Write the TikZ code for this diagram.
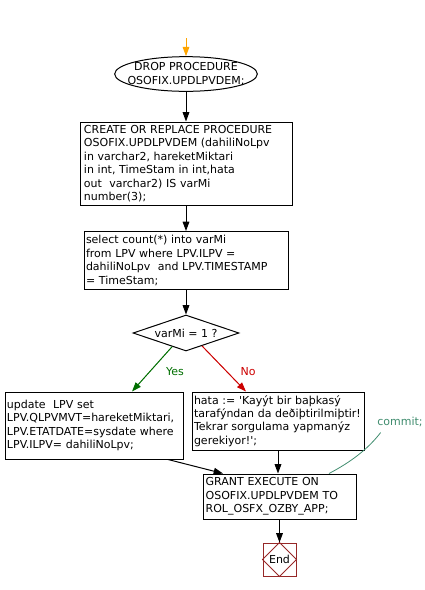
\documentclass[tikz,border=0pt]{standalone}
\usepackage{fontspec}
\setmainfont{DejaVu Sans}
\usetikzlibrary{shapes.geometric,arrows.meta,calc}
\definecolor{startorange}{RGB}{255,165,0}
\definecolor{yesgreen}{RGB}{0,110,0}
\definecolor{nored}{RGB}{204,0,0}
\definecolor{endred}{RGB}{150,40,40}
\definecolor{committeal}{RGB}{64,140,110}
\newcommand\sq{\textquotesingle}
\newcommand\tline[1]{\mbox{#1}}
\begin{document}
\begin{tikzpicture}[x=0.75pt,y=-0.75pt,
  every node/.style={font=\fontsize{8.25pt}{10.1pt}\selectfont},
  flow/.style={draw=black,line width=0.75pt,-{Triangle[length=7pt,width=5pt]}},
  pbox/.style={draw=black,line width=0.75pt,rectangle,align=left,inner ysep=0pt},
  termell/.style={draw=black,line width=0.75pt,ellipse,inner sep=0pt,minimum width=107pt,minimum height=26pt},
  decide/.style={draw=black,line width=0.75pt,diamond,shape aspect=2.94,inner sep=0pt,minimum width=79.5pt,minimum height=27pt},
  endbox/.style={draw=endred,line width=0.75pt,rectangle,minimum size=24.75pt,inner sep=0pt}
]
\useasboundingbox (0,0) rectangle (425,590);

\coordinate (start) at (186,38);
\node[termell] (ell) at (186,74) {};
\node[align=center,inner sep=0pt] (elltext) at (ell.center) {DROP PROCEDURE\\OSOFIX.UPDLPVDEM;};
\node[pbox,inner xsep=3pt,text width=153pt,minimum height=62.25pt] (box1) at (186,163.5)
  {\tline{CREATE OR REPLACE PROCEDURE}\\\tline{OSOFIX.UPDLPVDEM (dahiliNoLpv}\\\tline{in varchar2, hareketMiktari}\\\tline{in int, TimeStam in int,hata}\\\tline{out\ \ varchar2) IS varMi}\\\tline{number(3);}};
\node[pbox,inner xsep=1.5pt,text width=150pt,minimum height=43.5pt] (box2) at (186,260.5)
  {\tline{select count(*) into varMi}\\\tline{from LPV where LPV.ILPV =}\\\tline{dahiliNoLpv\ \ and LPV.TIMESTAMP}\\\tline{= TimeStam;}};
\node[decide] (dia) at (186,333) {varMi = 1 ?};
\node[pbox,inner xsep=1.5pt,text width=130.5pt,minimum height=50.25pt] (box3) at (94,425.5)
  {\tline{update\ \ LPV set}\\\tline{LPV.QLPVMVT=hareketMiktari,}\\\tline{LPV.ETATDATE=sysdate where}\\\tline{LPV.ILPV= dahiliNoLpv;}};
\node[pbox,inner xsep=1.5pt,text width=126pt,minimum height=43.5pt] (box4) at (278,421)
  {\tline{hata := \sq Kayýt bir baþkasý}\\\tline{tarafýndan da deðiþtirilmiþtir!}\\\tline{Tekrar sorgulama yapmanýz}\\\tline{gerekiyor!\sq;}};
\node[pbox,inner xsep=2pt,text width=110.75pt,minimum height=33.75pt] (box5) at (279.5,496.5)
  {\tline{GRANT EXECUTE ON}\\\tline{OSOFIX.UPDLPVDEM TO}\\\tline{ROL\_OSFX\_OZBY\_APP;}};
\node[endbox] (endn) at (279.5,559.5) {End};
\draw[endred,line width=0.75pt] (endn.north) -- (endn.east) -- (endn.south) -- (endn.west) -- cycle;
\node[text=yesgreen] (yes) at (175,372) {Yes};
\node[text=nored] (no) at (248,372) {No};
\node[text=committeal] (commit) at (400,422) {commit;};

\draw[flow,draw=startorange,fill=startorange] (start) -- (ell.north);
\draw[flow] (ell.south) -- (box1.north);
\draw[flow] (box1.south) -- (box2.north);
\draw[flow] (box2.south) -- (dia.north);
\draw[flow,draw=yesgreen,fill=yesgreen] ($(dia.south)!0.26!(dia.west)$) -- ($(box3.north)+(38,0)$);
\draw[flow,draw=nored,fill=nored] ($(dia.south)!0.3!(dia.east)$) -- ($(box4.north)+(-32,0)$);
\draw[flow] ($(box3.south)+(74,0)$) -- ($(box5.north)+(-56.5,0)$);
\draw[flow] (box4.south) -- (box4.south |- box5.north);
\draw[flow] (box5.south) -- (box5.south |- endn.north);
\coordinate (cstart) at ($(commit.south west)+(8,1)$);
\coordinate (cend) at ($(box5.north)+(49.5,0)$);
\draw[committeal,line width=0.6pt] (cstart) .. controls ($(cstart)+(-13,17)$) and ($(cend)+(21,-11)$) .. (cend);
\end{tikzpicture}
\end{document}
